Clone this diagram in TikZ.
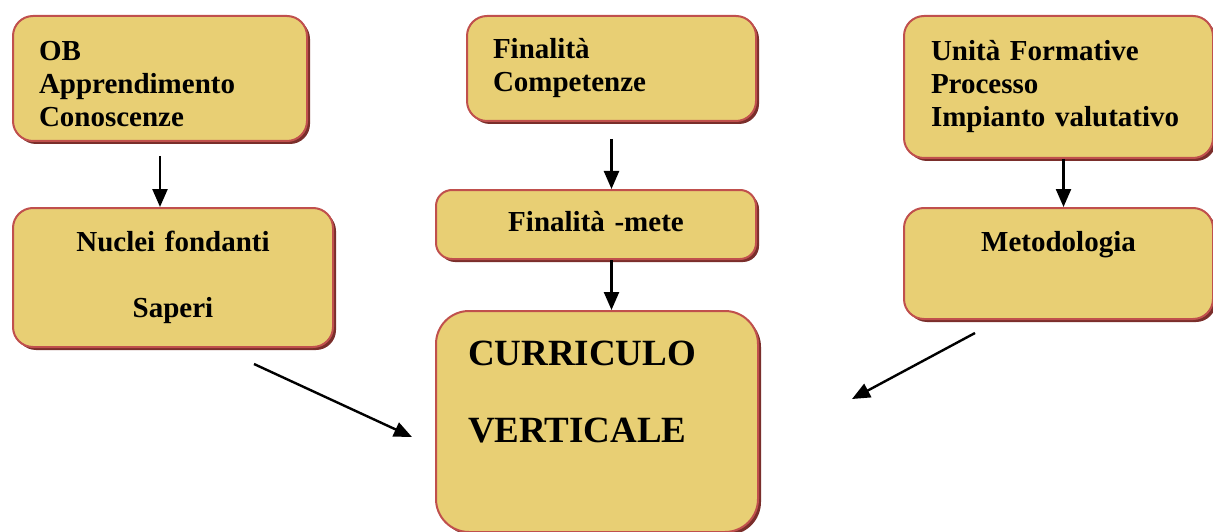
\documentclass[tikz,border=0pt]{standalone}
\usepackage{fontspec}
\setmainfont{Liberation Serif}
\usetikzlibrary{arrows.meta,calc,positioning,shadows}
\definecolor{boxfill}{HTML}{E8CF74}
\definecolor{boxborder}{HTML}{C0504D}
\definecolor{boxshadow}{HTML}{7A2E2B}
\newdimen\rdim
\rdim=20pt
\tikzstyle{element}=[
  anchor=north west,
  draw=boxborder,
  fill=boxfill,
  line width=2pt,
  font={\fontsize{29pt}{33pt}\selectfont\bfseries},
  inner xsep=26pt,
  inner ysep=0pt,
  rectangle,
  rounded corners=\rdim,
  align=left,
  drop shadow={shadow xshift=3pt, shadow yshift=-3pt, fill=boxshadow, opacity=1},
]
\tikzstyle{bigelement}=[
  element,
  font={\fontsize{37pt}{42pt}\selectfont\bfseries},
  inner xsep=32pt,
  rounded corners=1.65\rdim,
]
\tikzstyle{arrow}=[
  draw=black,
  line width=2.4pt,
]
\tikzset{
  >={Triangle[length=18pt,width=15pt]},
}
\begin{document}
\begin{tikzpicture}[x=1pt,y=-1pt]
  \useasboundingbox (0,0) rectangle (1213,532);
  %% left column
  \node (ob) [element, minimum width=294pt, minimum height=125pt, text width=242pt] at (12,15) {\rule{0pt}{30pt}OB\\Apprendimento\\Conoscenze};
  \node (nuclei) [element, minimum width=320pt, minimum height=139pt, text width=268pt, align=center] at (12,207) {Nuclei fondanti\\[33pt]Saperi};
  %% middle column
  \node (fin) [element, minimum width=289pt, minimum height=105pt, text width=237pt] at (466,15) {Finalità\\Competenze};
  \node (mete) [element, minimum width=320pt, minimum height=69pt, text width=268pt, align=center, rounded corners=.8\rdim] at (435,189) {Finalità -mete\\[-26pt]\mbox{}};
  \node (curr) [bigelement, minimum width=322pt, minimum height=221pt, text width=258pt] at (435,310) {CURRICULO\\[35pt]VERTICALE\\[18pt]\mbox{}};
  %% right column
  \node (unita) [element, minimum width=309pt, minimum height=142pt, inner xsep=27pt, text width=255pt] at (903,15) {Unità Formative\\Processo\\Impianto valutativo};
  \node (metod) [element, minimum width=309pt, minimum height=111pt, inner xsep=27pt, text width=255pt, align=center] at (903,207) {Metodologia\\[12pt]\mbox{}};
  %%
  \draw [->, arrow] ([yshift=-14pt]ob.south) -- (ob.south |- nuclei.north);
  \draw [->, arrow] ([yshift=-17pt]fin.south) -- (fin.south |- mete.north);
  \draw [->, arrow] (fin.south |- mete.south) -- (fin.south |- curr.north);
  \coordinate (E) at ([xshift=5pt]unita.south);
  \draw [->, arrow] (E) -- (E |- metod.north);
  %%
  \coordinate (A) at (254,364);
  \coordinate (B) at (412,437);
  \coordinate (C) at (975,333);
  \coordinate (D) at (852,399);
  \draw [->, arrow] (A) -- (B);
  \draw [->, arrow] (C) -- (D);
\end{tikzpicture}
\end{document}
